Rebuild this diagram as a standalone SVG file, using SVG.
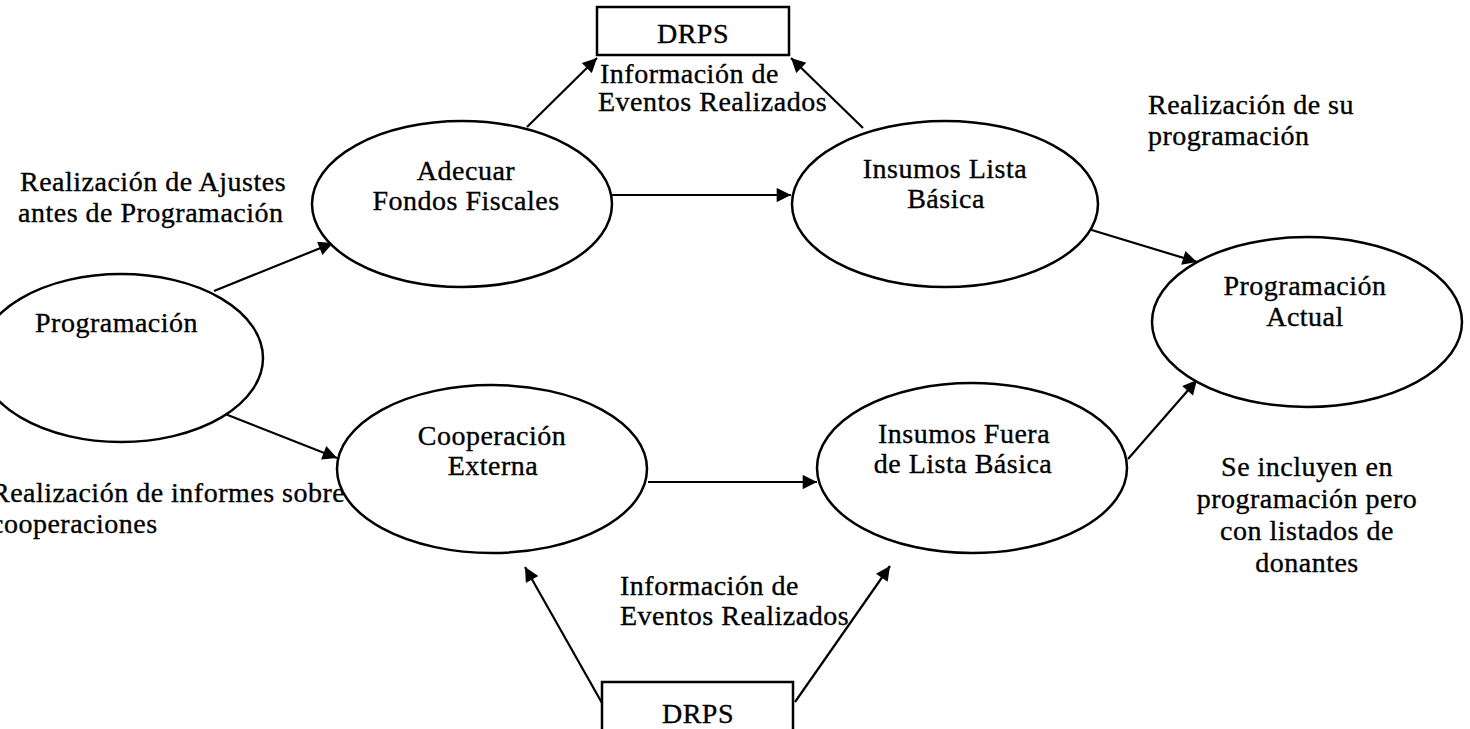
<svg xmlns="http://www.w3.org/2000/svg" width="1470" height="729" viewBox="0 0 1470 729">
  <style>
    .node { fill: #fff; stroke: #000; stroke-width: 2.5; }
    .box { fill: #fff; stroke: #000; stroke-width: 2.5; }
    .edge { fill: none; stroke: #000; stroke-width: 2.2; marker-end: url(#arrow); }
    text { font-family: "Liberation Serif", "Times New Roman", serif; font-size: 28px; letter-spacing: 0.5px; fill: #000; stroke: #000; stroke-width: 0.35px; }
    .c { text-anchor: middle; }
  </style>
  <defs>
    <marker id="arrow" viewBox="0 0 10 10" refX="10" refY="5" markerWidth="7.5" markerHeight="6.5" markerUnits="strokeWidth" orient="auto">
      <path d="M0,0 L10,5 L0,10 z" fill="#000"/>
    </marker>
  </defs>
  <rect width="1470" height="729" fill="#fff"/>

  <!-- connectors -->
  <g id="connectors">
    <line class="edge" x1="214" y1="291" x2="333" y2="243"/>
    <line class="edge" x1="215" y1="410" x2="337" y2="458"/>
    <line class="edge" x1="612" y1="195" x2="791" y2="195"/>
    <line class="edge" x1="648" y1="482" x2="817" y2="482"/>
    <line class="edge" x1="527" y1="127" x2="597" y2="58"/>
    <line class="edge" x1="863" y1="128" x2="791" y2="58"/>
    <line class="edge" x1="1085" y1="228" x2="1197" y2="262"/>
    <line class="edge" x1="1128" y1="459" x2="1197" y2="380"/>
    <line class="edge" x1="602" y1="703" x2="525" y2="567"/>
    <line class="edge" x1="795" y1="702" x2="890" y2="566"/>
  </g>

  <!-- nodes -->
  <g id="programacion">
    <ellipse class="node" cx="121" cy="358" rx="142" ry="84"/>
    <text x="35" y="332">Programación</text>
  </g>
  <g id="adecuar">
    <ellipse class="node" cx="462" cy="204" rx="150" ry="83"/>
    <text class="c" x="466" y="180">Adecuar</text>
    <text class="c" x="466" y="210">Fondos Fiscales</text>
  </g>
  <g id="insumos-lista">
    <ellipse class="node" cx="945" cy="204" rx="153" ry="83"/>
    <text class="c" x="945" y="178">Insumos Lista</text>
    <text class="c" x="946" y="208">Básica</text>
  </g>
  <g id="cooperacion">
    <ellipse class="node" cx="492" cy="469" rx="155" ry="84"/>
    <text class="c" x="492" y="445">Cooperación</text>
    <text class="c" x="493" y="475">Externa</text>
  </g>
  <g id="insumos-fuera">
    <ellipse class="node" cx="972" cy="468" rx="155" ry="85"/>
    <text class="c" x="964" y="443">Insumos Fuera</text>
    <text class="c" x="963" y="473">de Lista Básica</text>
  </g>
  <g id="programacion-actual">
    <ellipse class="node" cx="1307" cy="322" rx="155" ry="85"/>
    <text class="c" x="1305" y="295">Programación</text>
    <text class="c" x="1305" y="326">Actual</text>
  </g>
  <g id="drps-top">
    <rect class="box" x="597" y="7" width="192" height="48"/>
    <text class="c" x="693" y="43">DRPS</text>
  </g>
  <g id="drps-bottom">
    <rect class="box" x="602" y="682" width="191" height="60"/>
    <text class="c" x="698" y="723">DRPS</text>
  </g>

  <!-- flow labels -->
  <g id="labels">
    <text x="600" y="83">Información de</text>
    <text x="598" y="111">Eventos Realizados</text>
    <text x="1148" y="114">Realización de su</text>
    <text x="1148" y="145">programación</text>
    <text x="20" y="191">Realización de Ajustes</text>
    <text x="18" y="222">antes de Programación</text>
    <text x="-9" y="502">Realización de informes sobre</text>
    <text x="-9" y="533">cooperaciones</text>
    <text class="c" x="1307" y="476">Se incluyen en</text>
    <text class="c" x="1307" y="508">programación pero</text>
    <text class="c" x="1307" y="540">con listados de</text>
    <text class="c" x="1307" y="572">donantes</text>
    <text x="620" y="595">Información de</text>
    <text x="620" y="625">Eventos Realizados</text>
  </g>
</svg>
